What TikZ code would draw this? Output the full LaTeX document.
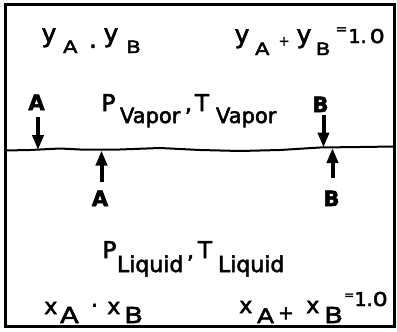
\documentclass[tikz,border=0pt]{standalone}
\usepackage{fontspec}
\setmainfont{DejaVu Sans}[FakeBold=2.5]
\newfontfamily\wcap{DejaVu Sans}[FakeStretch=1.25,FakeBold=2.5]
\usetikzlibrary{arrows.meta}
\newcommand\pc[4]{\makebox[#1][l]{\raisebox{#2}{\fontsize{#3}{#3}\selectfont #4}}}
\newcommand\pe[3]{\raisebox{#1}{\fontsize{#2}{#2}\selectfont #3}}
\tikzset{
  txt/.style={anchor=base west, inner sep=0pt, outer sep=0pt},
  lbl/.style={anchor=base, inner sep=0pt, outer sep=0pt, font=\fontsize{21}{21}\selectfont\bfseries},
  flux/.style={line width=4pt, -{Triangle[length=15pt,width=11pt]}},
  frame/.style={line width=3pt},
  iface/.style={line width=2pt, line join=round}
}
\begin{document}
\begin{tikzpicture}[x=1pt,y=-1pt]
\useasboundingbox (0,0) rectangle (397,332);
\draw[frame] (5.5,4.5) rectangle (394,326.5);
% interface
\draw[iface] plot coordinates {(5,150.5) (30,150) (60,148.5) (80,149.5) (120,149.5) (160,148) (200,150) (240,151) (280,150) (320,147.5) (360,147) (394,146.5)};
% vapour texts
\node[txt] (yprod) at (41.6,42) {\pc{21.4pt}{0pt}{25}{y}\pc{26pt}{-11pt}{17}{\wcap A}\pc{14.6pt}{-13pt}{25}{·}\pc{22.7pt}{0pt}{25}{y}\pe{-11pt}{17}{\wcap B}};
\node[txt] (ysum) at (234.6,43) {\pc{20.4pt}{0pt}{25}{y}\pc{23.6pt}{-12pt}{17}{\wcap A}\pc{18pt}{-2.5pt}{13}{+}\pc{19.2pt}{0pt}{25}{y}\pc{19.8pt}{-12pt}{17}{\wcap B}\pc{12.9pt}{9.3pt}{14}{=}\pc{12.2pt}{0pt}{19}{1}\pc{9pt}{0pt}{19}{.}\pe{0pt}{19}{\wcap 0}};
\node[txt] (pvap) at (101.5,111) {\pc{18.5pt}{0pt}{23}{P}\pc{65pt}{-12pt}{21}{Vapor}\pc{10pt}{0pt}{22}{,}\pc{21pt}{0pt}{23}{T}\pe{-12pt}{21}{Vapor}};
% liquid texts
\node[txt] (pliq) at (102.5,258) {\pc{14.5pt}{0pt}{23}{P}\pc{70pt}{-14pt}{22}{Liquid}\pc{11pt}{0pt}{22}{,}\pc{20pt}{0pt}{23}{T}\pe{-14pt}{22}{Liquid}};
\node[txt] (xprod) at (44.3,314) {\pc{15.7pt}{0pt}{22}{x}\pc{31pt}{-9pt}{22}{\wcap A}\pc{16.3pt}{1.2pt}{22}{·}\pc{16.9pt}{0pt}{22}{x}\pe{-9pt}{22}{\wcap B}};
\node[txt] (xsum) at (239.3,313) {\pc{17.7pt}{0pt}{22}{x}\pc{21pt}{-10pt}{20}{\wcap A}\pc{28.3pt}{-6.3pt}{19}{+}\pc{17.9pt}{0pt}{22}{x}\pc{20pt}{-10pt}{22}{\wcap B}\pc{10.3pt}{14pt}{12}{=}\pc{12.1pt}{7pt}{19}{1}\pc{6.1pt}{7pt}{19}{.}\pe{7pt}{19}{\wcap 0}};
% arrow labels
\node[lbl] (lAv) at (36.5,110) {A};
\node[lbl] (lBv) at (320.5,112) {B};
\node[lbl] (lAl) at (100,206) {A};
\node[lbl] (lBl) at (331.5,206) {B};
% arrow ends
\coordinate (aVs) at (38,117);  \coordinate (aVt) at (38,150);
\coordinate (bVs) at (323.5,115); \coordinate (bVt) at (323.5,147.5);
\coordinate (aLs) at (101.5,182); \coordinate (aLt) at (101.5,150.5);
\coordinate (bLs) at (332.5,178); \coordinate (bLt) at (332.5,148);
\draw[flux] (aVs) -- (aVt);
\draw[flux] (bVs) -- (bVt);
\draw[flux] (aLs) -- (aLt);
\draw[flux] (bLs) -- (bLt);
\end{tikzpicture}
\end{document}
